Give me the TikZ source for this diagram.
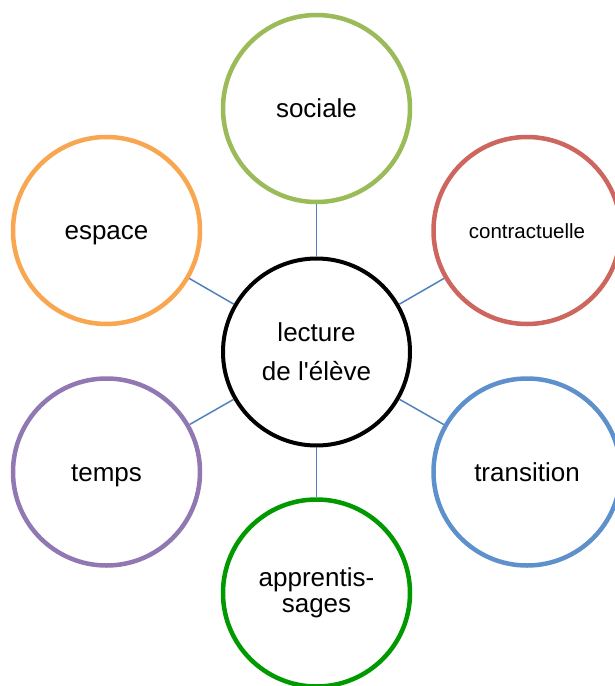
\documentclass[tikz,border=0pt]{standalone}
\usepackage{fontspec}
\setmainfont{Liberation Sans}
\definecolor{cSoc}{RGB}{155,187,89}
\definecolor{cCon}{RGB}{205,102,94}
\definecolor{cEsp}{RGB}{249,166,80}
\definecolor{cTem}{RGB}{145,120,178}
\definecolor{cTra}{RGB}{94,145,204}
\definecolor{cApp}{RGB}{0,153,0}
\definecolor{cLine}{RGB}{79,129,189}
\begin{document}
\begin{tikzpicture}[x=1pt,y=-1pt,
  bubble/.style={circle,draw,line width=4.5pt,inner sep=0pt,minimum size=187pt,fill=white,
    font=\fontsize{26}{39}\selectfont,align=center},
  single/.style={text height=18.7pt,text depth=0pt},
  link/.style={draw=cLine,line width=1.5pt}]
\useasboundingbox (0,0) rectangle (615,686);
\node[bubble,line width=4pt,draw=black] (c) at (316.5,352) {lecture\\de l\textquotesingle élève};
\node[bubble,single,draw=cSoc] (soc) at (316.5,108.5) {sociale};
\node[bubble,draw=cCon,font=\fontsize{20.5}{24}\selectfont,text height=15pt,text depth=0pt] (con) at (527,230.5) {contractuelle};
\node[bubble,single,draw=cEsp] (esp) at (106.5,230.5) {espace};
\node[bubble,single,draw=cTem] (tem) at (106.5,472) {temps};
\node[bubble,single,draw=cTra] (tra) at (527,472) {transition};
\node[bubble,draw=cApp,font=\fontsize{26}{26.5}\selectfont] (app) at (316.5,593) {apprentis-\\sages};
\draw[link] (c) -- (soc);
\draw[link] (c) -- (con);
\draw[link] (c) -- (esp);
\draw[link] (c) -- (tem);
\draw[link] (c) -- (tra);
\draw[link] (c) -- (app);
\end{tikzpicture}
\end{document}
